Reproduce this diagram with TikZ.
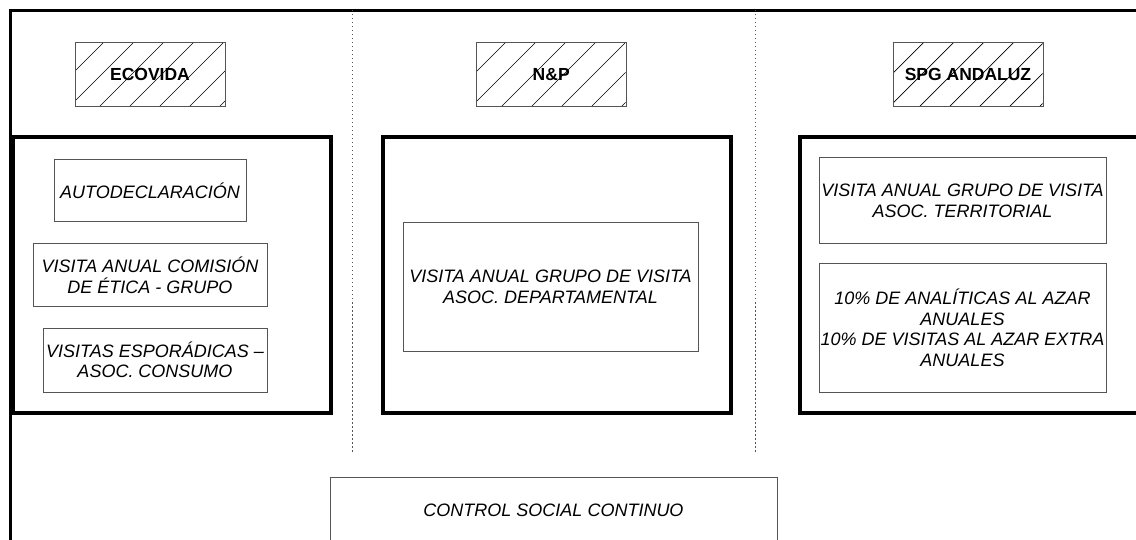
\documentclass[tikz,border=0pt]{standalone}
\usepackage{fontspec}
\setmainfont{Liberation Sans}
\definecolor{bgray}{RGB}{85,85,85}
\begin{document}
\begin{tikzpicture}[x=1pt,y=-1pt,
  inbox/.style={draw=bgray, line width=1pt, inner sep=0pt, align=center,
    font=\itshape\fontsize{18}{20.5}\selectfont},
  hbox/.style={draw=bgray, line width=1pt, inner sep=0pt,
    font=\bfseries\fontsize{17.5}{20}\selectfont, minimum width=150pt, minimum height=63.7pt},
  frameBox/.style={draw=black, line width=4pt, inner sep=0pt, minimum height=275.8pt},
  hatchline/.style={black, line width=0.7pt},
  divider/.style={bgray, line width=1pt, dash pattern=on 1.5pt off 2.5pt},
  outerframe/.style={black, line width=2.7pt}]
\useasboundingbox (0,0) rectangle (1136,540);
\clip (0,0) rectangle (1136,540);

% outer frame (cut by the page at right and bottom)
\draw[outerframe] (10.3,570) -- (10.3,10.3) -- (1160,10.3);

% column dividers
\coordinate (d1t) at (352,10);
\coordinate (d1b) at (352,452);
\coordinate (d2t) at (755,10);
\coordinate (d2b) at (755,452);
\draw[divider] (d1t) -- (d1b);
\draw[divider] (d2t) -- (d2b);

% hatching
\begin{scope}
  \clip (75,42.3) rectangle (225,106);
  \foreach \k in {-4,...,5} \draw[hatchline] ({206+30*\k-110},110) -- ({206+30*\k-38},38);
\end{scope}
\begin{scope}
  \clip (476.7,42.3) rectangle (625.7,106);
  \foreach \k in {-4,...,5} \draw[hatchline] ({608+30*\k-110},110) -- ({608+30*\k-38},38);
\end{scope}
\begin{scope}
  \clip (893.3,42.3) rectangle (1042.7,106);
  \foreach \k in {-4,...,5} \draw[hatchline] ({1026+30*\k-110},110) -- ({1026+30*\k-38},38);
\end{scope}

% header boxes
\node[hbox] (eco) at (150,74.2) {ECOVIDA};
\node[hbox] (np) at (551.2,74.2) {N\&P};
\node[hbox] (spg) at (968,74.2) {SPG ANDALUZ};

% thick frames
\node[frameBox, minimum width=317.2pt] (ecoframe) at (171.9,275.4) {};
\node[frameBox, minimum width=348pt] (npframe) at (556.5,275.4) {};
\node[frameBox, minimum width=360pt] (spgframe) at (979.5,275.4) {};

% inner boxes
\node[inbox, minimum width=192pt, minimum height=62pt] (auto) at (150,191) {AUTODECLARACIÓN};
\node[inbox, minimum width=234pt, minimum height=63pt] (comision) at (150,275.5)
  {VISITA ANUAL COMISIÓN\\DE ÉTICA - GRUPO};
\node[inbox, minimum width=224pt, minimum height=64pt] (esporadicas) at (155,360)
  {VISITAS ESPORÁDICAS –\\ASOC. CONSUMO};
\node[inbox, minimum width=295pt, minimum height=128pt] (dept) at (550.5,287)
  {VISITA ANUAL GRUPO DE VISITA\\ASOC. DEPARTAMENTAL};
\node[inbox, minimum width=287pt, minimum height=86pt] (terr) at (962.5,201)
  {VISITA ANUAL GRUPO DE VISITA\\ASOC. TERRITORIAL};
\node[inbox, minimum width=287pt, minimum height=128pt] (azar) at (962.5,328)
  {10\% DE ANALÍTICAS AL AZAR\\ANUALES\\10\% DE VISITAS AL AZAR EXTRA\\ANUALES};
\node[inbox, minimum width=447pt, minimum height=66pt] (control) at (553.5,510)
  {CONTROL SOCIAL CONTINUO};
\end{tikzpicture}
\end{document}
